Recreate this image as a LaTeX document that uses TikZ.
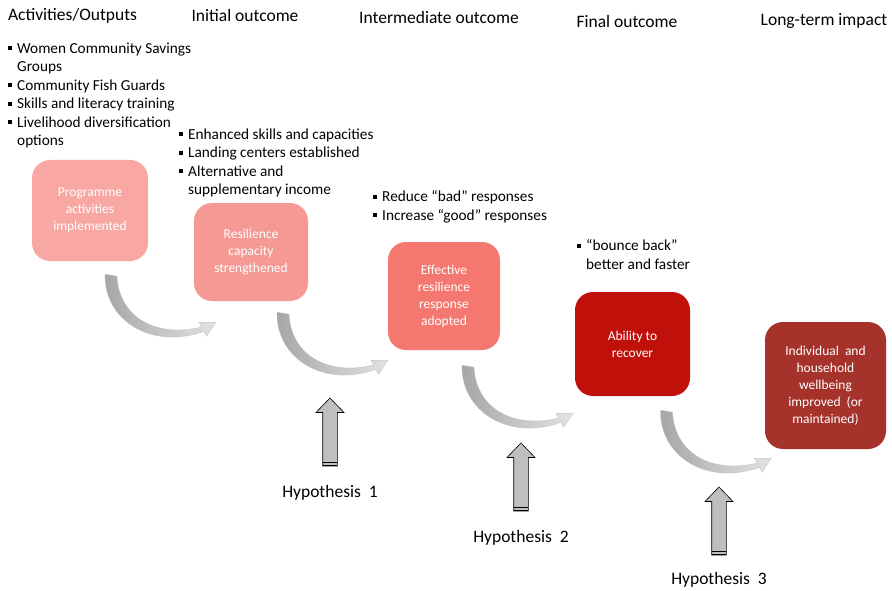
\documentclass[tikz,border=0pt]{standalone}
\usepackage{fontspec}
\setmainfont{Carlito}
\definecolor{StageOne}{RGB}{248,167,163}
\definecolor{StageTwo}{RGB}{246,153,148}
\definecolor{StageThree}{RGB}{245,120,112}
\definecolor{StageFour}{RGB}{192,16,10}
\definecolor{StageFive}{RGB}{166,50,44}
\usetikzlibrary{
    positioning,
    calc,
}
\newcommand{\bitem}{\makebox[9pt][l]{\rule[0.2em]{4pt}{4pt}}}
\newcommand{\bcont}{\hspace*{9pt}}
\tikzset{
    stagebox/.style={rounded corners=18pt, text=white, align=center,
        inner sep=0pt, font=\fontsize{13.5}{17}\selectfont},
    header/.style={font=\fontsize{17.5}{20}\selectfont, inner sep=0pt},
    bullets/.style={align=left, anchor=north west, inner sep=0pt,
        font=\fontsize{15.3}{18.5}\selectfont},
    hyplabel/.style={font=\fontsize{17.5}{20}\selectfont, inner sep=0pt},
    pics/curvearrow/.style={code={
        \shadedraw[left color=gray!70, right color=gray!22, draw=gray!50, line width=0.3pt]
            (-6,-1) .. controls (-7,45) and (40,75) .. (93,56.2)
            -- (95.6,61.1) -- (105,47) -- (88,47) -- (90.6,51.8)
            .. controls (45,63) and (8,42) .. (6,1) -- cycle;
    }},
    pics/hyparrow/.style={code={
        \draw[fill=gray!50, line width=0.6pt] (-7.3,0) -- (-7.3,-53.5) -- (-14,-53.5)
            -- (0,-68) -- (14,-53.5) -- (7.3,-53.5) -- (7.3,0) -- cycle;
        \draw[line width=1.2pt] (-7.3,-3.6) -- (7.3,-3.6);
        \draw[line width=1.2pt] (-7.3,-0.4) -- (7.3,-0.4);
    }},
}
\begin{document}
\begin{tikzpicture}[x=1pt, y=-1pt]
        \useasboundingbox (0,0) rectangle (892,591);
        % column headers
        \node[header] (hact) at (72.5,16) {Activities/Outputs};
        \node[header] (hini) at (245,15) {Initial outcome};
        \node[header] (hint) at (439,17) {Intermediate outcome};
        \node[header] (hfin) at (627,21) {Final outcome};
        \node[header] (hlong) at (824,21) {Long-term impact};
        % bullet lists
        \node[bullets] (lact) at (8,42.5) {\bitem Women Community Savings\\ \bcont Groups\\
            \bitem Community Fish Guards\\ \bitem Skills and literacy training\\
            \bitem Livelihood diversification\\ \bcont options};
        \node[bullets] (lini) at (179,128.5) {\bitem Enhanced skills and capacities\\
            \bitem Landing centers established\\ \bitem Alternative and\\
            \bcont supplementary income};
        \node[bullets] (lint) at (373,190.5) {\bitem Reduce “bad” responses\\
            \bitem Increase “good” responses};
        \node[bullets] (lfin) at (577,239.5) {\bitem “bounce back”\\ \bcont better and faster};
        % stages
        \node[stagebox, fill=StageOne, minimum width=116pt, minimum height=101pt] (b1)
            at (90,210.5) {Programme\\activities\\implemented};
        \node[stagebox, fill=StageTwo, minimum width=114pt, minimum height=98pt] (b2)
            at (251,252) {Resilience\\capacity\\strengthened};
        \node[stagebox, fill=StageThree, minimum width=112pt, minimum height=108pt] (b3)
            at (444,296) {Effective\\resilience\\response\\adopted};
        \node[stagebox, fill=StageFour, minimum width=115pt, minimum height=104pt] (b4)
            at (632.5,344) {Ability to\\recover};
        \node[stagebox, fill=StageFive, minimum width=121pt, minimum height=127pt] (b5)
            at (825.5,385.5) {Individual\ \ and\\household\\wellbeing\\improved\ \ (or\\maintained)};
        % curved links
        \pic at ($(b1.south)+(21,14)$) {curvearrow};
        \pic at ($(b2.south)+(32,12)$) {curvearrow};
        \pic at ($(b3.south)+(24,16)$) {curvearrow};
        \pic at ($(b4.south)+(34,15)$) {curvearrow};
        % hypotheses
        \node[hyplabel] (h1) at (330,493) {Hypothesis\ \ 1};
        \node[hyplabel] (h2) at (521,537.5) {Hypothesis\ \ 2};
        \node[hyplabel] (h3) at (719,579.5) {Hypothesis\ \ 3};
        \pic at ($(h1.center)+(0,-27)$) {hyparrow};
        \pic at ($(h2.center)+(0,-26.5)$) {hyparrow};
        \pic at ($(h3.center)+(0,-24.5)$) {hyparrow};
    \end{tikzpicture}
\end{document}
